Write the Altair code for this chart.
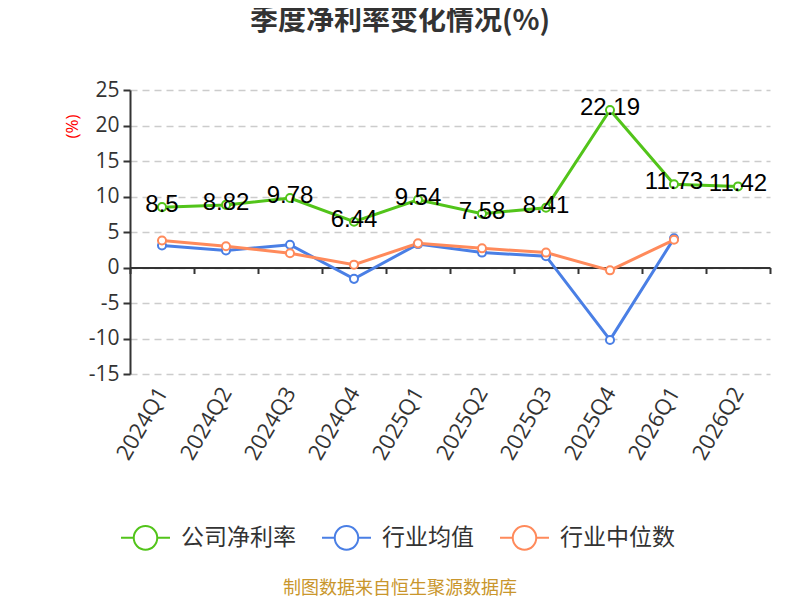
import altair as alt
import pandas as pd

quarters = ["2024Q1", "2024Q2", "2024Q3", "2024Q4", "2025Q1",
            "2025Q2", "2025Q3", "2025Q4", "2026Q1", "2026Q2"]
company = [8.5, 8.82, 9.78, 6.44, 9.54, 7.58, 8.41, 22.19, 11.73, 11.42]
ind_mean = [3.1, 2.4, 3.2, -1.6, 3.3, 2.1, 1.6, -10.2, 4.1, None]
ind_median = [3.8, 3.0, 2.0, 0.4, 3.4, 2.7, 2.1, -0.4, 3.9, None]

series_names = ["公司净利率", "行业均值", "行业中位数"]
series_colors = ["#52c41a", "#4a7fe5", "#ff8a5b"]
title_text = "季度净利率变化情况(%)"
footer_text = "制图数据来自恒生聚源数据库"

rows = []
for name, vals in zip(series_names, [company, ind_mean, ind_median]):
    for q, v in zip(quarters, vals):
        if v is not None:
            rows.append({"quarter": q, "series": name, "value": v})
df = pd.DataFrame(rows)
df_company = df[df["series"] == "公司净利率"].copy()
df_company["label"] = df_company["value"].map(lambda v: f"{v:g}")

W, H = 640, 284
y_min, y_max = -15, 25
zero_px = H * y_max / (y_max - y_min)
legend_symbol = "M-1,0L-0.48,0M0.48,0L1,0M-0.48,0A0.48,0.48,0,1,1,0.48,0A0.48,0.48,0,1,1,-0.48,0Z"

x_enc = alt.X(
    "quarter:N", sort=quarters,
    scale=alt.Scale(type="band", paddingInner=0, paddingOuter=0),
    axis=alt.Axis(
        title=None, labelAngle=-60, labelAlign="right", labelBaseline="middle",
        labelFontSize=22, labelFont="Open Sans", labelColor="#333",
        labelPadding=115, offset=-(H - zero_px), labelOverlap=False,
        domainColor="#333", domainWidth=2, tickColor="#333", tickWidth=2,
        tickSize=6, tickBand="extent", grid=False,
    ),
)
y_enc = alt.Y(
    "value:Q",
    scale=alt.Scale(domain=[y_min, y_max], nice=False),
    axis=alt.Axis(
        values=list(range(-15, 30, 5)), labelOverlap=False, labelExpr="datum.value",
        title="(%)", titleColor="red",
        titleFontSize=17, titleFontWeight="normal", titleFont="Open Sans",
        titleX=-58, titleY=36, titleAlign="center", titleBaseline="middle",
        labelFontSize=21, labelFont="Open Sans", labelColor="#333", labelPadding=4,
        domainColor="#333", domainWidth=2, tickColor="#333", tickWidth=2, tickSize=7,
        gridColor="#cccccc", gridDash=[7, 5], gridWidth=1.5,
    ),
)
color_enc = alt.Color(
    "series:N",
    scale=alt.Scale(domain=series_names, range=series_colors),
    legend=alt.Legend(
        title=None, orient="none", direction="horizontal", legendX=-10, legendY=422,
        symbolType=legend_symbol, symbolSize=2400, symbolStrokeWidth=2,
        symbolFillColor="white", labelFontSize=23, labelFont="Noto Sans CJK SC",
        labelColor="#333", labelOffset=10, columnPadding=22,
    ),
)

base = alt.Chart(df).encode(x=x_enc, y=y_enc, color=color_enc)
lines = base.mark_line(strokeWidth=3)
points = base.mark_point(filled=False, fill="white", opacity=1, size=65, strokeWidth=2)

labels = alt.Chart(df_company).mark_text(
    font="Liberation Sans", fontSize=24, color="black", baseline="middle", dy=-2
).encode(x=x_enc, y=y_enc, text="label:N")

# title and footer are drawn as text marks outside the plot area
notes = pd.DataFrame({"t": [title_text, footer_text]})
title = alt.Chart(notes).transform_filter(alt.datum.t == title_text).mark_text(
    font="Noto Sans CJK SC", fontSize=28, fontWeight="bold", color="#333",
    baseline="middle",
).encode(text="t:N", x=alt.value(270), y=alt.value(-68))
footer = alt.Chart(notes).transform_filter(alt.datum.t == footer_text).mark_text(
    font="Noto Sans CJK SC", fontSize=18, color="#c9962c", baseline="middle"
).encode(text="t:N", x=alt.value(270), y=alt.value(499))

chart = alt.layer(lines, points, labels, title, footer).properties(
    width=W, height=H,
    autosize=alt.AutoSizeParams(type="none"),
    padding={"left": 122, "top": 82, "right": 22, "bottom": 224},
).configure_view(stroke=None)

chart.save("out.html", embed_options={"renderer": "svg", "actions": False})
